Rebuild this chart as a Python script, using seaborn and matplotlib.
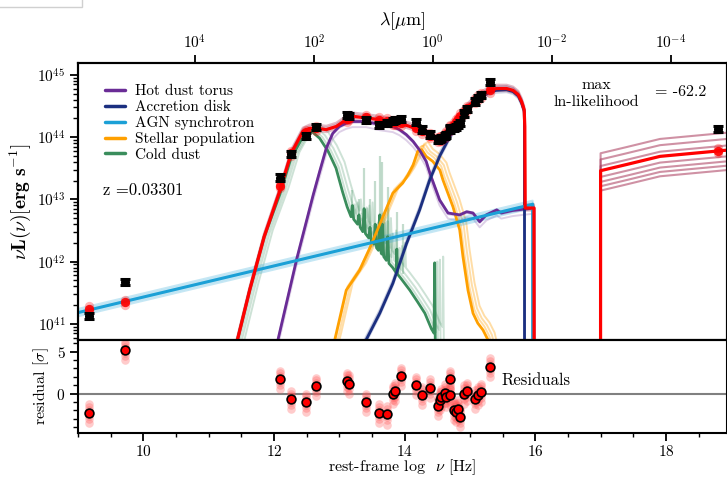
import numpy as np
import seaborn as sns
import matplotlib.pyplot as plt
import matplotlib.ticker as mticker
import matplotlib.patches as mpatches
from matplotlib.lines import Line2D

# ---------------- observed photometry (rest-frame log nu, log nuL) ----------------
obs_lognu = [9.162, 9.724, 12.095, 12.264, 12.483, 12.647, 13.116, 13.146, 13.402, 13.606,
             13.735, 13.821, 13.847, 13.949, 14.169, 14.271, 14.394, 14.510, 14.536, 14.562,
             14.613, 14.639, 14.690, 14.700, 14.751, 14.792, 14.817, 14.854, 14.904, 14.955,
             15.073, 15.123, 15.175, 15.302, 18.796]
obs_logL = [41.13, 41.67, 43.35, 43.73, 44.02, 44.16, 44.35, 44.34, 44.27, 44.19,
            44.22, 44.26, 44.27, 44.29, 44.24, 44.12, 44.04, 43.96, 43.97, 43.99,
            44.02, 44.03, 44.14, 44.12, 44.14, 44.16, 44.19, 44.22, 44.38, 44.45,
            44.57, 44.63, 44.68, 44.88, 44.13]
obs_err = 0.05
model_logL = [41.24, 41.35, 43.22, 43.74, 44.08, 44.14, 44.29, 44.31, 44.32, 44.28,
              44.26, 44.24, 44.24, 44.22, 44.14, 44.09, 44.02, 43.96, 43.97, 43.98,
              44.02, 44.05, 44.14, 44.15, 44.20, 44.25, 44.29, 44.34, 44.40, 44.46,
              44.59, 44.63, 44.67, 44.75, 43.78]
residual = [-2.3, 5.2, 1.7, -0.7, -1.0, 0.9, 1.5, 1.2, -1.0, -2.3,
            -2.5, -0.05, 0.3, 2.1, 1.0, -0.2, 0.7, -1.5, -0.8, -0.4,
            0.1, -0.4, 1.7, -0.2, -2.0, -2.2, -1.8, -2.8, 0.0, 0.3,
            -0.6, -0.2, 0.2, 3.2, np.nan]
resid_spread = [-1.2, -0.7, -0.35, 0.35, 0.7, 1.0]
model_spread = [-0.04, 0.04]

# ---------------- model components (log nu, log nuL) ----------------
torus_nu = [11.95, 12.06, 12.35, 12.60, 12.70, 12.80, 12.90, 13.00, 13.10, 13.20, 13.41,
            13.62, 13.82, 13.92, 14.025, 14.13, 14.23, 14.33, 14.40, 14.536, 14.664,
            14.843, 14.95, 15.047, 15.149, 15.25, 15.41, 15.48, 15.65, 15.81, 15.98, 15.981]
torus_L = [40.0, 40.74, 42.05, 43.07, 43.45, 43.82, 44.06, 44.17, 44.22, 44.25, 44.25,
           44.20, 44.17, 44.12, 44.04, 43.93, 43.79, 43.61, 43.38, 42.99, 42.78,
           42.75, 42.80, 42.78, 42.64, 42.75, 42.83, 42.78, 42.82, 42.84, 42.86, 38.0]

disk_nu = [13.30, 13.41, 13.62, 13.82, 14.03, 14.23, 14.38, 14.54, 14.69, 14.79, 14.88,
           14.99, 15.14, 15.30, 15.40, 15.56, 15.66, 15.74, 15.79, 15.83, 15.835, 15.836]
disk_L = [40.5, 40.74, 41.17, 41.65, 42.29, 42.83, 43.30, 43.70, 44.00, 44.17, 44.34,
          44.48, 44.62, 44.72, 44.75, 44.76, 44.73, 44.66, 44.55, 44.42, 44.20, 38.0]

sync_nu = [9.0, 15.96, 15.961]
sync_L = [41.18, 42.92, 38.0]

stellar_nu = [12.85, 12.93, 13.106, 13.31, 13.46, 13.62, 13.82, 13.97, 14.05, 14.13, 14.20,
              14.26, 14.33, 14.43, 14.54, 14.587, 14.74, 14.843, 14.893, 14.97, 15.047,
              15.12, 15.20, 15.277, 15.33]
stellar_L = [40.4, 40.74, 41.54, 41.86, 42.20, 42.60, 43.10, 43.26, 43.39, 43.55, 43.77,
             43.80, 43.69, 43.61, 43.47, 43.31, 42.88, 42.51, 42.08, 41.54, 41.17,
             41.01, 40.90, 40.74, 40.50]

dust_nu = [11.20, 11.44, 11.63, 11.85, 12.09, 12.26, 12.44, 12.58, 12.70, 12.83, 12.95,
           13.05, 13.12, 13.18, 13.20, 13.22, 13.28, 13.30, 13.32, 13.36, 13.38, 13.40,
           13.45, 13.47, 13.49, 13.53, 13.55, 13.57, 13.60, 13.62, 13.64, 13.65, 13.66,
           13.68, 13.72, 13.74, 13.76, 13.82, 13.87, 13.88, 13.89, 13.95, 14.08, 14.20,
           14.31, 14.41, 14.45, 14.46, 14.47, 14.50]
dust_L = [39.7, 40.74, 41.55, 42.40, 43.08, 43.66, 44.00, 44.09, 43.98, 43.77, 43.50,
          43.12, 42.88, 42.72, 42.90, 42.68, 42.60, 42.75, 42.55, 42.48, 42.85, 42.45,
          42.38, 42.55, 42.33, 42.28, 42.60, 42.22, 42.18, 42.75, 42.14, 42.12, 42.60,
          42.08, 42.02, 42.40, 41.97, 41.90, 41.82, 42.20, 41.80, 41.72, 41.54, 41.35,
          41.17, 40.92, 40.85, 41.98, 40.60, 39.50]

# narrow emission features seen in the fainter dust samples
pah_nu = [13.20, 13.30, 13.38, 13.47, 13.55, 13.62, 13.66, 13.74, 13.88, 13.97]
pah_base = [42.75, 42.62, 42.52, 42.42, 42.32, 42.22, 42.18, 42.08, 41.92, 41.80]
pah_top = [43.15, 43.00, 43.50, 43.00, 43.30, 43.70, 43.60, 43.20, 42.80, 42.60]

total_nu = [11.30, 11.44, 11.63, 11.85, 12.084, 12.264, 12.441, 12.544, 12.647, 12.80,
            12.953, 13.106, 13.16, 13.31, 13.40, 13.61, 13.77, 13.93, 14.08, 14.23, 14.38,
            14.49, 14.58, 14.69, 14.79, 14.88, 14.99, 15.14, 15.30, 15.405, 15.56, 15.66,
            15.74, 15.79, 15.83, 15.84, 15.845, 15.98, 15.985]
total_L = [40.2, 40.74, 41.55, 42.40, 43.12, 43.74, 44.09, 44.14, 44.14, 44.12,
           44.17, 44.28, 44.34, 44.32, 44.31, 44.28, 44.25, 44.22, 44.17, 44.11, 44.03,
           43.96, 43.99, 44.14, 44.25, 44.38, 44.51, 44.65, 44.75, 44.78, 44.78, 44.75,
           44.68, 44.57, 44.44, 44.17, 42.86, 42.86, 38.0]

xray_nu = [16.999, 17.0, 17.4, 17.91, 18.935]
xray_L = [38.0, 43.46, 43.56, 43.69, 43.79]
xray_spread = [0.28, 0.18, 0.075, -0.10, -0.18, -0.25, -0.32]

band_small = [(0.0, -0.04), (0.0, 0.03), (0.0, 0.06)]
stellar_shift = [(0.02, 0.06), (0.06, 0.08), (0.10, 0.12)]
dust_shift = [(0.04, 0.02), (0.08, 0.05), (0.13, 0.10)]
sync_shift = [(0.0, -0.06), (0.0, -0.03), (0.0, 0.03), (0.0, 0.06)]

C_TORUS = '#6a2c96'
C_DISK = '#1b2f80'
C_SYNC = '#1ba0d6'
C_STAR = '#ffa000'
C_DUST = '#3a8d5c'
C_TOT = '#ff0000'
C_SAMP = '#a8385a'

sns.set_theme(style='ticks')
plt.rcParams.update({
    'font.family': 'serif', 'font.serif': ['cmr10'], 'mathtext.fontset': 'cm',
    'axes.formatter.use_mathtext': True, 'axes.linewidth': 1.5,
    'axes.edgecolor': 'black', 'axes.labelcolor': 'black', 'text.color': 'black',
    'xtick.color': 'black', 'ytick.color': 'black',
    'xtick.major.width': 1.3, 'ytick.major.width': 1.3,
    'xtick.minor.width': 1.0, 'ytick.minor.width': 1.0,
    'xtick.major.size': 6, 'ytick.major.size': 6,
    'xtick.minor.size': 3, 'ytick.minor.size': 3.5,
    'xtick.major.pad': 2.0, 'ytick.major.pad': 3,
    'font.size': 11.5,
})

fig = plt.figure(figsize=(7.27, 4.78), dpi=100)
ax = fig.add_axes([0.1073, 0.2887, 0.8927, 0.5795])
axr = fig.add_axes([0.1073, 0.094, 0.8927, 0.1947], sharex=ax)
ax.set_yscale('log')


def curve(a, nu, logL, dx=0.0, dy=0.0, **kw):
    sns.lineplot(x=np.asarray(nu) + dx, y=10 ** (np.asarray(logL) + dy), sort=False,
                 estimator=None, ax=a, legend=False, **kw)


# faint posterior samples
ax.vlines(pah_nu, 10 ** np.asarray(pah_base), 10 ** np.asarray(pah_top), color=C_DUST,
          alpha=0.3, lw=1.6, zorder=1)
for dx, dy in dust_shift:
    curve(ax, dust_nu, dust_L, dx, dy, color=C_DUST, alpha=0.25, lw=1.4, zorder=1)
for dx, dy in stellar_shift:
    curve(ax, stellar_nu, stellar_L, dx, dy, color=C_STAR, alpha=0.35, lw=1.4, zorder=1)
for dx, dy in band_small:
    curve(ax, torus_nu, torus_L, dx, dy - 0.05, color=C_TORUS, alpha=0.22, lw=1.4, zorder=1)
    curve(ax, disk_nu, disk_L, dx, dy, color=C_DISK, alpha=0.2, lw=1.4, zorder=1)
for dx, dy in sync_shift:
    curve(ax, sync_nu, sync_L, dx, dy, color=C_SYNC, alpha=0.25, lw=1.4, zorder=1)
for dx, dy in band_small:
    curve(ax, total_nu, total_L, dx, dy, color=C_SAMP, alpha=0.35, lw=1.6, zorder=2)
for dy in xray_spread:
    curve(ax, xray_nu, xray_L, 0.0, dy, color=C_SAMP, alpha=0.55, lw=1.5, zorder=2)

# components
curve(ax, dust_nu, dust_L, color=C_DUST, lw=2.0, zorder=3)
curve(ax, stellar_nu, stellar_L, color=C_STAR, lw=2.0, zorder=3)
curve(ax, torus_nu, torus_L, color=C_TORUS, lw=2.0, zorder=3)
curve(ax, disk_nu, disk_L, color=C_DISK, lw=2.0, zorder=3)
curve(ax, sync_nu, sync_L, color=C_SYNC, lw=2.2, zorder=4)
curve(ax, total_nu, total_L, color=C_TOT, lw=2.3, zorder=5)
curve(ax, xray_nu, xray_L, color=C_TOT, lw=2.3, zorder=5)

# model photometry and observed points
mod = np.asarray(model_logL)
for dy in model_spread:
    sns.scatterplot(x=obs_lognu, y=10 ** (mod + dy), ax=ax, color=C_TOT, alpha=0.3,
                    s=45, linewidth=0, zorder=6, legend=False)
sns.scatterplot(x=obs_lognu, y=10 ** mod, ax=ax, color=C_TOT, alpha=0.9, s=45,
                linewidth=0, zorder=6, legend=False)
ol = np.asarray(obs_logL)
yerr = [10 ** ol - 10 ** (ol - obs_err), 10 ** (ol + obs_err) - 10 ** ol]
ax.errorbar(obs_lognu, 10 ** ol, yerr=yerr, fmt='o', color='black', ms=5.5,
            elinewidth=2.2, capsize=3.5, capthick=2.2, zorder=7)

ax.set_xlim(9.0, 18.935)
ax.set_ylim(10 ** 40.74, 10 ** 45.19)
ax.tick_params(axis='x', which='both', bottom=False, labelbottom=False)
ax.yaxis.set_major_locator(mticker.LogLocator(base=10, numticks=10))
ax.yaxis.set_minor_locator(mticker.LogLocator(base=10, subs=np.arange(2, 10), numticks=20))
ax.yaxis.set_minor_formatter(mticker.NullFormatter())
ax.set_ylabel(r'$\nu\mathbf{L}(\nu)[\mathbf{erg\ s^{-1}}]$', fontsize=14, labelpad=3)

# wavelength axis on top
top = ax.twiny()
top.set_xscale('log')
top.set_xlim(10 ** 5.967, 10 ** -4.945)
top.set_xticks([1e4, 1e2, 1e0, 1e-2, 1e-4])
top.xaxis.set_minor_locator(mticker.NullLocator())
top.set_xlabel(r'$\lambda[\mu$m$]$', fontsize=13, labelpad=6)
top.spines['top'].set_linewidth(1.5)

handles = [Line2D([], [], color=c, lw=2.5) for c in (C_TORUS, C_DISK, C_SYNC, C_STAR, C_DUST)]
labels = ['Hot dust torus', 'Accretion disk', 'AGN synchrotron', 'Stellar population', 'Cold dust']
ax.legend(handles, labels, loc='upper left', bbox_to_anchor=(0.02, 0.972), frameon=False,
          fontsize=11, handlelength=1.3, labelspacing=0.13, handletextpad=0.7)
ax.text(0.038, 0.54, 'z =0.03301', transform=ax.transAxes, fontsize=12, va='center')
ax.text(0.798, 0.89, 'max\nln-likelihood', transform=ax.transAxes, fontsize=11.5,
        ha='center', va='center', linespacing=1.25)
ax.text(0.889, 0.895, '= -62.2', transform=ax.transAxes, fontsize=11.5, va='center')

# residual panel
rr = np.asarray(residual)
for dr in resid_spread:
    sns.scatterplot(x=obs_lognu, y=rr + dr, ax=axr, color='#ff5555', alpha=0.3, s=38,
                    linewidth=0, zorder=2, legend=False)
axr.axhline(0, color='grey', lw=1.5, zorder=1)
sns.scatterplot(x=obs_lognu, y=rr, ax=axr, color='red', edgecolor='black', s=40,
                linewidth=1.2, zorder=3, legend=False)
axr.set_ylim(-4.72, 6.4)
axr.yaxis.set_major_locator(mticker.MultipleLocator(5))
axr.yaxis.set_minor_locator(mticker.MultipleLocator(1))
axr.xaxis.set_major_locator(mticker.MultipleLocator(2))
axr.xaxis.set_minor_locator(mticker.MultipleLocator(0.5))
axr.set_ylabel(r'residual [$\sigma$]', fontsize=11.5, labelpad=4)
axr.set_xlabel(r'rest-frame log  $\nu$ [Hz]', fontsize=11.5, labelpad=-1)
axr.text(15.49, 1.6, 'Residuals', fontsize=12, va='center')

fig.patches.append(mpatches.Rectangle((-0.01, 0.985), 0.123, 0.03, transform=fig.transFigure,
                                      fill=False, edgecolor='#d0d0d0', lw=1.0))

fig.savefig('out.png', dpi=100)
